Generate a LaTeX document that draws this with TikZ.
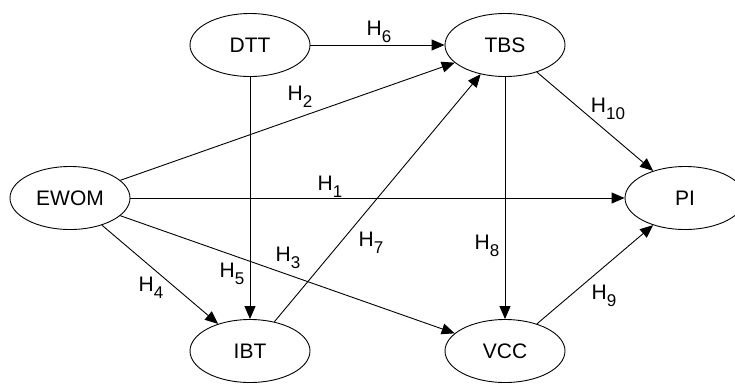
\documentclass[tikz,border=0pt]{standalone}
\usepackage{fontspec}
\setmainfont{Liberation Sans}
\usetikzlibrary{shapes.geometric,arrows.meta}

% hypothesis label: H with a lowered index
\newcommand{\hyp}[1]{H\raisebox{-0.32em}{\fontsize{17}{17}\selectfont #1}}

\tikzset{
  construct/.style={ellipse, draw, line width=0.9pt, minimum width=120pt,
    minimum height=63pt, inner sep=0pt, font=\fontsize{21}{21}\selectfont},
  path/.style={-{Triangle[length=13pt,width=11pt]}, line width=0.9pt},
  hlabel/.style={inner sep=0pt, font=\fontsize{21}{21}\selectfont}
}

\begin{document}
\begin{tikzpicture}[x=1pt,y=-1pt]
  \useasboundingbox (0,0) rectangle (735,384);
  \begin{scope}
    \clip (0,0) rectangle (735,384);

    % constructs
    \node[construct] (dtt)  at (250,45)  {DTT};
    \node[construct] (tbs)  at (505,45)  {TBS};
    \node[construct] (ewom) at (70,198)  {EWOM};
    \node[construct] (pi)   at (685,198) {PI};
    \node[construct] (ibt)  at (250,351) {IBT};
    \node[construct] (vcc)  at (505,351) {VCC};

    % hypothesised paths
    \draw[path] (ewom) -- (pi);
    \draw[path] (ewom) -- (tbs);
    \draw[path] (ewom) -- (vcc);
    \draw[path] (ewom) -- (ibt);
    \draw[path] (dtt)  -- (ibt);
    \draw[path] (dtt)  -- (tbs);
    \draw[path] (ibt)  -- (tbs);
    \draw[path] (tbs)  -- (vcc);
    \draw[path] (vcc)  -- (pi);
    \draw[path] (tbs)  -- (pi);

    % path labels
    \node[hlabel] (h1)  at (330,187) {\hyp{1}};
    \node[hlabel] (h2)  at (300,97)  {\hyp{2}};
    \node[hlabel] (h3)  at (288,258) {\hyp{3}};
    \node[hlabel] (h4)  at (151,288) {\hyp{4}};
    \node[hlabel] (h5)  at (232,274) {\hyp{5}};
    \node[hlabel] (h6)  at (379,32)  {\hyp{6}};
    \node[hlabel] (h7)  at (371,243) {\hyp{7}};
    \node[hlabel] (h8)  at (487,246) {\hyp{8}};
    \node[hlabel] (h9)  at (604,296) {\hyp{9}};
    \node[hlabel] (h10) at (608,109) {\hyp{10}};
  \end{scope}
\end{tikzpicture}
\end{document}
